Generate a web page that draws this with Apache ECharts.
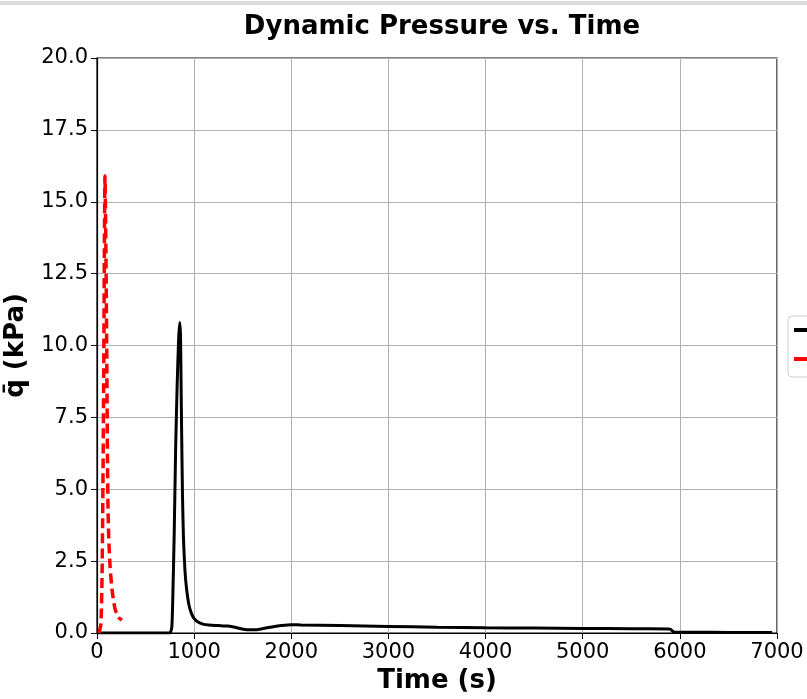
<!DOCTYPE html>
<html><head><meta charset="utf-8">
<script src="https://cdn.jsdelivr.net/npm/echarts@6/dist/echarts.min.js"></script>
<style>html,body{margin:0;padding:0;background:#fff}#c{width:807px;height:699px}</style>
</head><body><div id="c"></div>
<script>
const xTicks = [0,1000,2000,3000,4000,5000,6000,7000];
const yTicks = [0,2.5,5,7.5,10,12.5,15,17.5,20];
const blackT = [0,700,750,770,780,795,810,825,840,852,860,866,872,880,890,905,920,945,970,1000,1040,1090,1150,1250,1350,1420,1480,1550,1620,1700,1800,1900,2000,2100,2500,3000,3500,4000,4500,5000,5500,5880,5905,5925,5950,6200,6500,6950];
const blackQ = [0,0,0,0.2,1.2,3.5,6.5,8.6,10.2,10.8,10.3,8.5,6.8,4.8,3.3,2.2,1.6,1.0,0.7,0.5,0.38,0.31,0.28,0.26,0.24,0.2,0.15,0.11,0.11,0.15,0.21,0.26,0.29,0.28,0.26,0.23,0.2,0.18,0.17,0.16,0.15,0.14,0.13,0.06,0.03,0.03,0.02,0.02];
const redT = [20,40,52,62,70,76,82,88,95,102,108,114,122,135,155,185,220,257];
const redQ = [0,0.3,2,5.5,9.5,13.5,15.9,14.5,12,9,6,4.2,3.2,2.3,1.5,0.85,0.55,0.45];
const seriesNames = ['Trajectory A','Trajectory B'];

const zip = (a,b)=>a.map((v,i)=>[v,b[i]]);
const chart = echarts.init(document.getElementById('c'));
const font = 'DejaVu Sans';
chart.setOption({
  animation:false,
  textStyle:{fontFamily:font},
  title:{text:'Dynamic Pressure vs. Time',left:437,top:9,textAlign:'center',
    textStyle:{fontFamily:font,fontWeight:'bold',fontSize:26,color:'#000'}},
  graphic:[{type:'rect',shape:{x:0,y:1,width:807,height:4},style:{fill:'#dcdcdc'}}],
  grid:{left:97,right:30,top:58,bottom:66,outerBoundsMode:'none',containLabel:false,show:true,borderColor:'#000',borderWidth:1.2,backgroundColor:'#fff'},
  legend:{left:788,top:316,orient:'vertical',icon:'rect',itemWidth:30,itemHeight:4,itemGap:9,
    backgroundColor:'#fff',borderColor:'#ccc',borderWidth:1,borderRadius:4,padding:[4,8,8,6],
    textStyle:{fontFamily:font,fontSize:20,color:'#000'},
    data:seriesNames},
  xAxis:{type:'value',min:0,max:7000,interval:1000,
    name:'Time (s)',nameLocation:'middle',nameGap:32,
    nameTextStyle:{fontFamily:font,fontWeight:'bold',fontSize:26,color:'#000'},
    axisLine:{show:true,lineStyle:{color:'#000',width:1.2}},
    axisTick:{show:true,length:6,lineStyle:{color:'#000'}},
    axisLabel:{fontFamily:font,fontSize:21,color:'#000',margin:9,formatter:v=>xTicks.includes(v)?String(v):''},
    splitLine:{show:true,lineStyle:{color:'#b0b0b0',width:1}}},
  yAxis:{type:'value',min:0,max:20,interval:2.5,
    name:'q\u0304 (kPa)',nameLocation:'middle',nameGap:68,nameRotate:90,
    nameTextStyle:{fontFamily:font,fontWeight:'bold',fontSize:26,color:'#000'},
    axisLine:{show:true,lineStyle:{color:'#000',width:1.2}},
    axisTick:{show:true,length:6,lineStyle:{color:'#000'}},
    axisLabel:{fontFamily:font,fontSize:21,color:'#000',margin:9,formatter:v=>yTicks.includes(v)?v.toFixed(1):''},
    splitLine:{show:true,lineStyle:{color:'#b0b0b0',width:1}}},
  series:[
    {name:seriesNames[0],type:'line',data:zip(blackT,blackQ),symbol:'none',smooth:0.2,
      lineStyle:{color:'#000',width:3},itemStyle:{color:'#000'},z:3},
    {name:seriesNames[1],type:'line',data:zip(redT,redQ),symbol:'none',smooth:0.2,
      lineStyle:{color:'#ff0000',width:3.5,type:[10,5]},itemStyle:{color:'#ff0000'},z:4}
  ]
});
</script></body></html>
